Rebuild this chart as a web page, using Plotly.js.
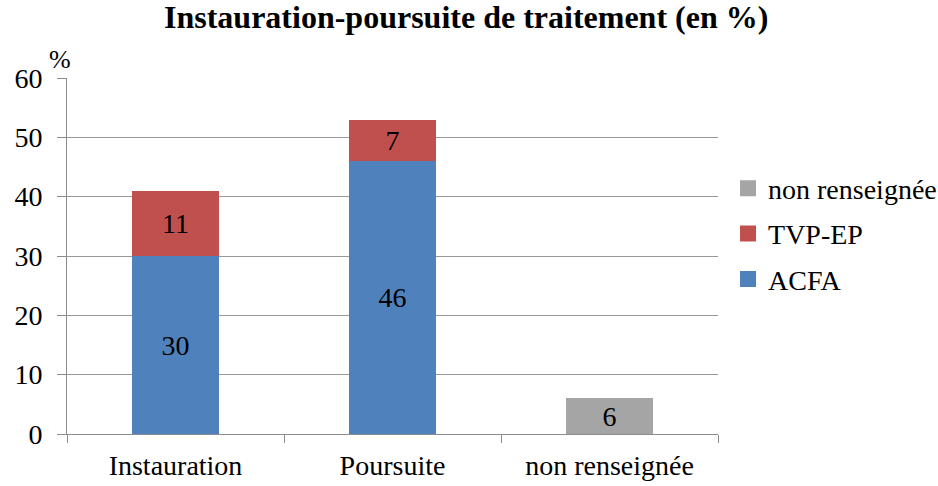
<!DOCTYPE html>
<html><head><meta charset="utf-8">
<script src="https://cdn.plot.ly/plotly-3.0.1.min.js"></script>
<style>body{margin:0;background:#fff}#c{width:938px;height:486px}</style>
</head><body><div id="c"></div>
<script>
const categories = ["Instauration", "Poursuite", "non renseignée"];
const acfa = [30, 46, null];
const tvpep = [11, 7, null];
const nonRens = [null, null, 6];
const yTicks = [0, 10, 20, 30, 40, 50, 60];
const seriesNames = ["ACFA", "TVP-EP", "non renseignée"];
const seriesColors = ["#4f81bd", "#c0504d", "#a5a5a5"];

const FAM = "Liberation Serif";
const font = {family: FAM, size: 28, color: "#000"};
function tr(i, vals) {
  return {type: "bar", name: seriesNames[i], x: categories, y: vals,
    marker: {color: seriesColors[i]}, width: 0.4, showlegend: false, legendgroup: "g" + i,
    text: vals.map(v => v == null ? "" : String(v)),
    textposition: "inside", insidetextanchor: "middle", constraintext: "none", textangle: 0,
    textfont: font, hoverinfo: "none"};
}
function leg(i) {
  return {type: "scatter", mode: "markers", name: seriesNames[i], x: [null], y: [null],
    legendgroup: "g" + i, showlegend: true,
    marker: {symbol: "square", size: 16, color: seriesColors[i]}, hoverinfo: "none"};
}
const data = [
  tr(0, acfa), tr(1, tvpep), tr(2, nonRens),
  leg(2), leg(1), leg(0)
];
const layout = {
  width: 938, height: 486,
  margin: {l: 67, r: 220, t: 78, b: 52, autoexpand: false},
  barmode: "stack",
  paper_bgcolor: "#fff", plot_bgcolor: "#fff",
  font: font,
  title: {text: "<b>Instauration-poursuite de traitement (en %)</b>", x: 0.497, xanchor: "center", y: 0.989, yanchor: "top",
    font: {family: FAM, size: 32, color: "#000"}},
  xaxis: {showgrid: false, showline: true, linecolor: "#8c8c8c", linewidth: 1,
    ticks: "outside", tickson: "boundaries", ticklen: 8, tickcolor: "#8c8c8c",
    ticklabelstandoff: 6, tickfont: font, fixedrange: true},
  yaxis: {range: [0, 60], tickvals: yTicks, showgrid: true, gridcolor: "#999999",
    showline: true, linecolor: "#8c8c8c", ticks: "outside", ticklen: 9, tickcolor: "#8c8c8c",
    ticklabelstandoff: 9, tickfont: font, zeroline: false, fixedrange: true},
  legend: {traceorder: "grouped", x: 1.0154, xanchor: "left", y: 0.562, yanchor: "middle",
    font: font, itemwidth: 30, itemsizing: "trace", tracegroupgap: 6},
  annotations: [{text: "%", xref: "paper", yref: "paper", x: -0.03, y: 1.0, xanchor: "left", yanchor: "bottom",
    yshift: 2, showarrow: false, font: {family: FAM, size: 26, color: "#000"}}],
  showlegend: true
};
Plotly.newPlot("c", data, layout, {displayModeBar: false, staticPlot: true});
</script></body></html>
